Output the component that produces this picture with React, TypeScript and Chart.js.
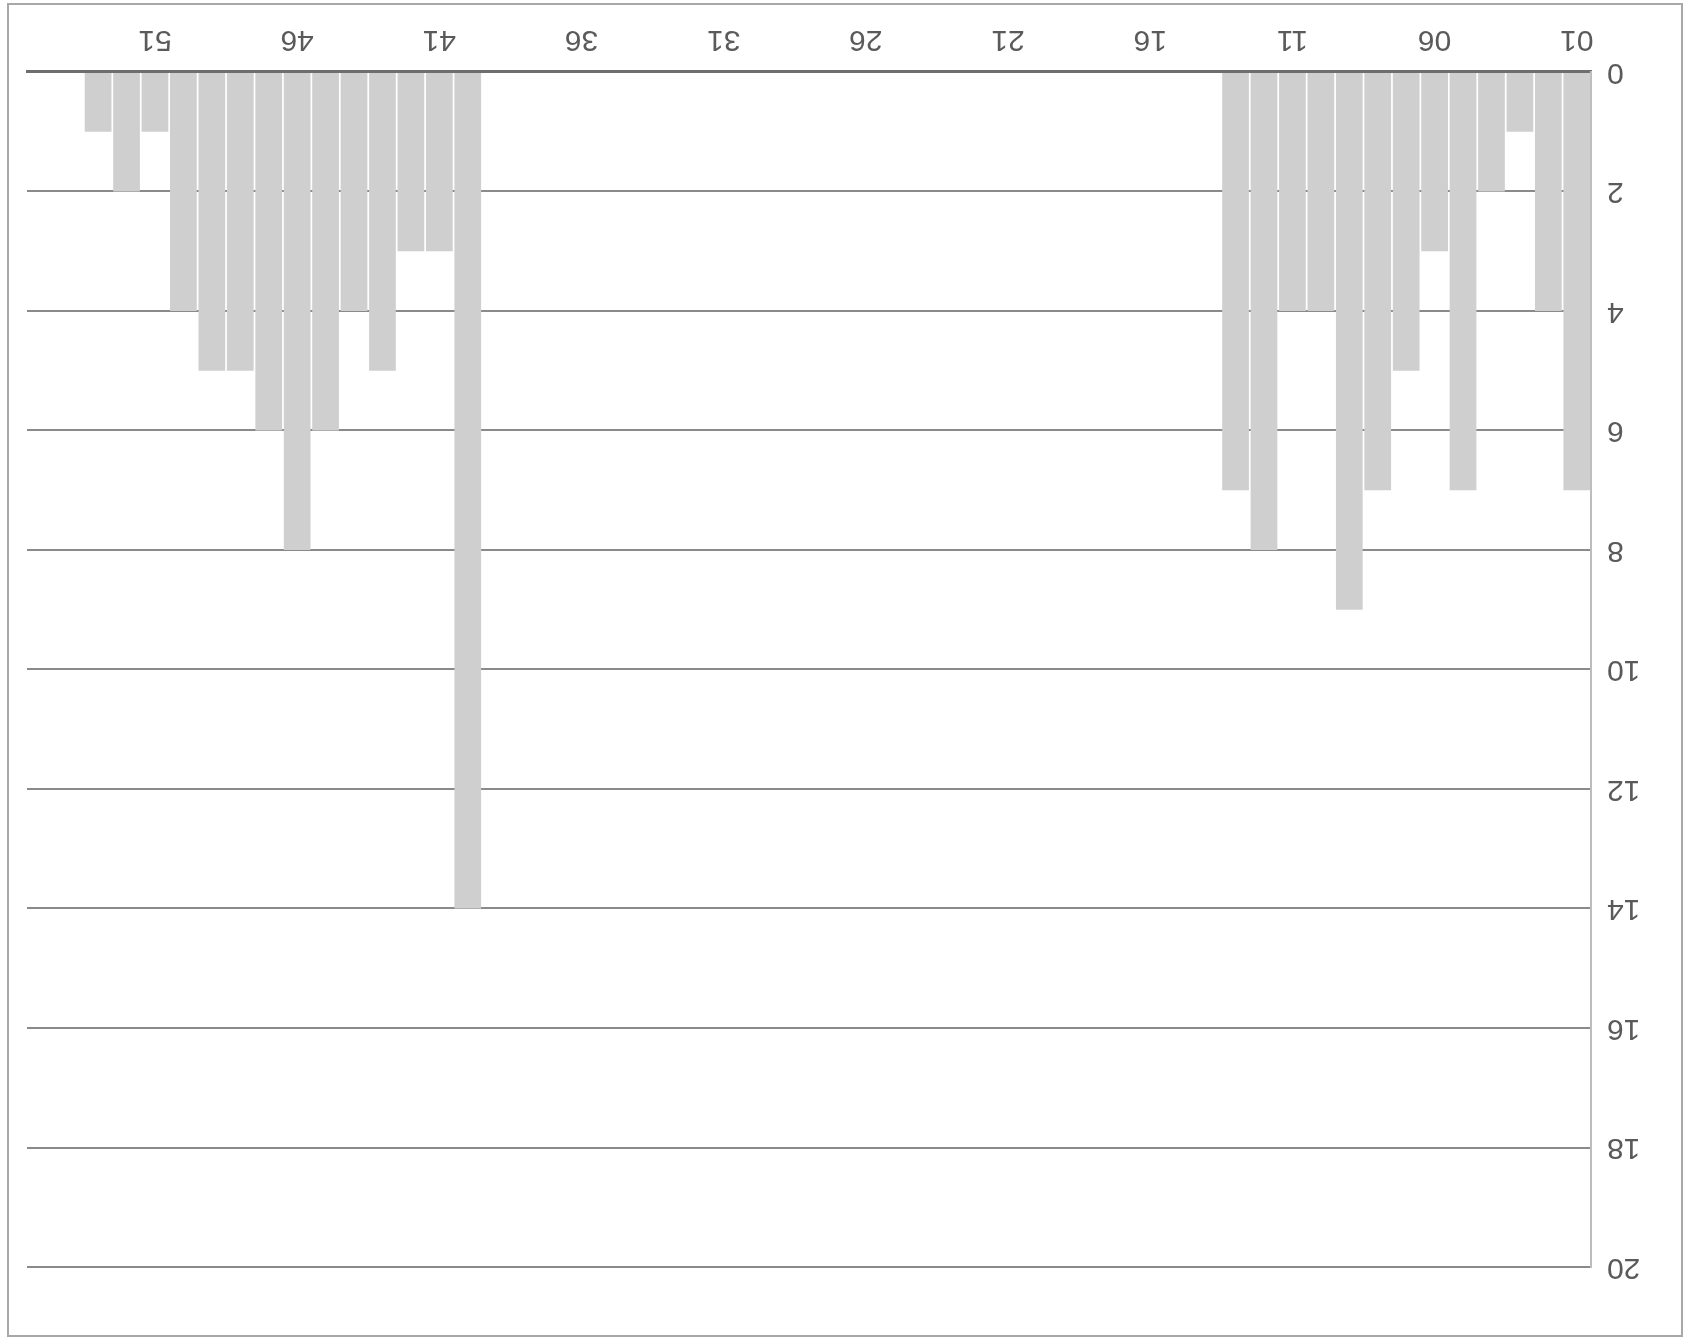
import React, { useEffect, useRef } from "react";
import { Chart, registerables } from "chart.js";

Chart.register(...registerables);

// Week numbers 01..55
const weeks: string[] = [
  "01","02","03","04","05","06","07","08","09","10",
  "11","12","13","14","15","16","17","18","19","20",
  "21","22","23","24","25","26","27","28","29","30",
  "31","32","33","34","35","36","37","38","39","40",
  "41","42","43","44","45","46","47","48","49","50",
  "51","52","53","54","55",
];

// Counts per week (0 = no bar)
const counts: number[] = [
  7, 4, 1, 2, 7, 3, 5, 7, 9, 4,
  4, 8, 7, 0, 0, 0, 0, 0, 0, 0,
  0, 0, 0, 0, 0, 0, 0, 0, 0, 0,
  0, 0, 0, 0, 0, 0, 0, 0, 0, 14,
  3, 3, 5, 4, 6, 8, 6, 5, 5, 4,
  1, 2, 1, 0, 0,
];

const yMin = 0;
const yMax = 20;
const yStep = 2;
const labelEvery = 5;

const W = 1692;
const H = 1341;

const tickFont = { family: "'Liberation Sans', Arial, sans-serif", size: 30 };

export default function App() {
  const ref = useRef<HTMLCanvasElement | null>(null);

  useEffect(() => {
    if (!ref.current) return;
    const chart = new Chart(ref.current, {
      type: "bar",
      data: {
        labels: weeks,
        datasets: [
          {
            data: counts,
            backgroundColor: "#cfcfcf",
            borderWidth: 0,
            barPercentage: 0.94,
            categoryPercentage: 1,
          },
        ],
      },
      options: {
        animation: false,
        responsive: false,
        devicePixelRatio: 1,
        layout: { padding: { left: 0, right: 27, top: 74, bottom: 0 } },
        plugins: {
          legend: { display: false },
          tooltip: { enabled: false },
          title: { display: false },
        },
        scales: {
          x: {
            grid: { display: false, drawTicks: false },
            border: { display: true, color: "#6e6e6e", width: 3 },
            ticks: {
              autoSkip: false,
              maxRotation: 0,
              minRotation: 0,
              padding: 15,
              color: "#5a5a5a",
              font: tickFont,
              callback: (_v: any, i: number) => (i % labelEvery === 0 ? weeks[i] : ""),
            },
            afterFit: (s: any) => {
              s.height = 72;
            },
          },
          y: {
            min: yMin,
            max: yMax,
            z: 1,
            grid: { color: "#8a8a8a", lineWidth: 2, drawTicks: false },
            border: { display: true, color: "#bdbdbd", width: 2 },
            ticks: {
              stepSize: yStep,
              padding: 16,
              color: "#5a5a5a",
              font: tickFont,
            },
            afterFit: (s: any) => {
              s.width = 101;
            },
          },
        },
      },
    });
    return () => chart.destroy();
  }, []);

  return (
    <div
      style={{
        position: "absolute",
        left: 0,
        top: 0,
        width: W,
        height: H,
        background: "#ffffff",
        transform: "rotate(180deg)",
        overflow: "hidden",
      }}
    >
      <div
        style={{
          position: "absolute",
          left: 9,
          top: 4,
          width: 1672,
          height: 1330,
          border: "2px solid #a8a8a8",
        }}
      />
      <canvas
        ref={ref}
        width={W}
        height={H}
        style={{ position: "absolute", left: 0, top: 0, width: W, height: H }}
      />
    </div>
  );
}
